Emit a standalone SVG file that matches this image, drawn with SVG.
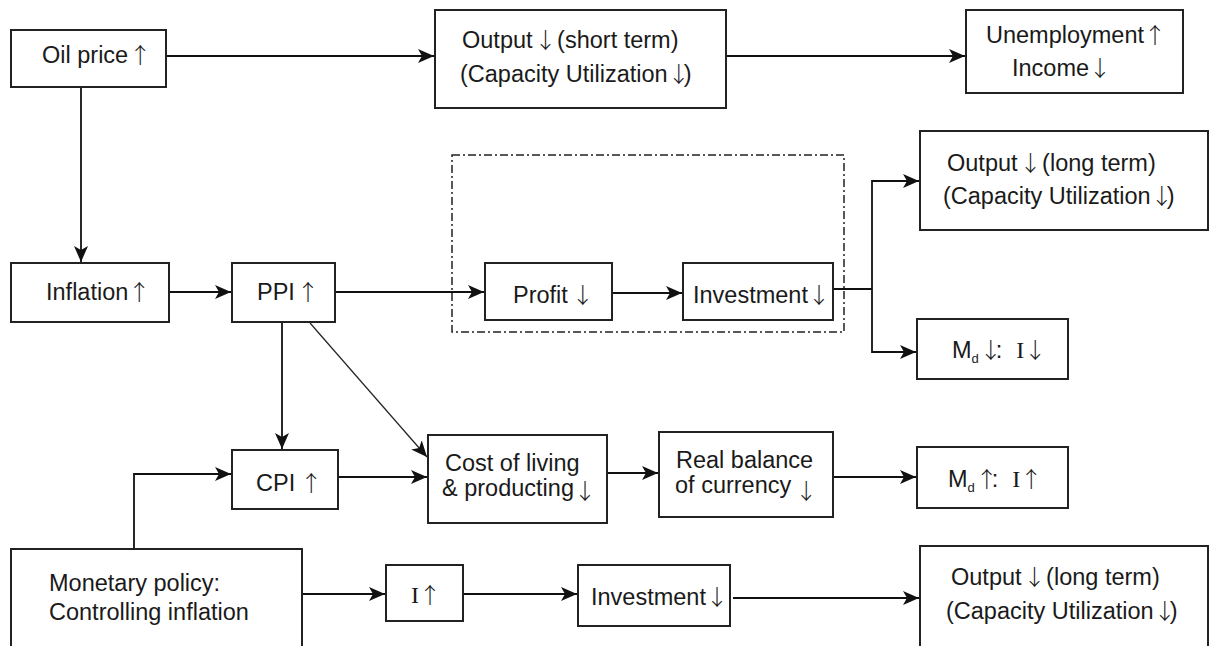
<svg xmlns="http://www.w3.org/2000/svg" width="1209" height="646" viewBox="0 0 1209 646">
<style>
.box{fill:#fff;stroke:#222;stroke-width:2}
.t{font-family:"Liberation Sans",Arial,sans-serif;font-size:23.5px;fill:#1a1a1a}
.s{font-family:"Liberation Serif","Times New Roman",serif;font-size:24px}
.a{font-family:"Noto Sans CJK SC","DejaVu Sans",sans-serif;font-size:22px;fill:#1a1a1a;font-weight:300;letter-spacing:-6px}
.sub{font-size:13px}
.c{fill:none;stroke:#111;stroke-width:1.8}
.thin{fill:none;stroke:#222;stroke-width:1.2}
.dash{fill:none;stroke:#222;stroke-width:1.5;stroke-dasharray:8,3,2,3}
</style>
<defs>
<marker id="ah" markerUnits="userSpaceOnUse" markerWidth="18" markerHeight="14" refX="16" refY="7" orient="auto">
<path d="M0,0 L16,7 L0,14 L4,7 Z" fill="#111"/>
</marker>
</defs>
<rect class="dash" x="452" y="155" width="392" height="177"/>
<g id="connectors">
<line class="c" x1="166" y1="56" x2="434" y2="56" marker-end="url(#ah)"/>
<line class="c" x1="726" y1="56" x2="965" y2="56" marker-end="url(#ah)"/>
<line class="c" x1="81" y1="87" x2="81" y2="262" marker-end="url(#ah)"/>
<line class="c" x1="169" y1="292" x2="231" y2="292" marker-end="url(#ah)"/>
<line class="c" x1="335" y1="292" x2="484" y2="292" marker-end="url(#ah)"/>
<line class="c" x1="612" y1="293" x2="682" y2="293" marker-end="url(#ah)"/>
<polyline class="c" points="833,289 872,289"/>
<polyline class="c" points="919,181 872,181 872,352 916,352" marker-end="url(#ah)"/>
<line class="c" x1="872" y1="181" x2="919" y2="181" marker-end="url(#ah)"/>
<line class="c" x1="282" y1="322" x2="282" y2="449" marker-end="url(#ah)"/>
<line class="thin" x1="310" y1="323" x2="427" y2="457" marker-end="url(#ah)"/>
<polyline class="c" points="134,549 134,474 231,474" marker-end="url(#ah)"/>
<line class="c" x1="338" y1="477" x2="427" y2="477" marker-end="url(#ah)"/>
<line class="c" x1="607" y1="473" x2="658" y2="473" marker-end="url(#ah)"/>
<line class="c" x1="833" y1="477" x2="916" y2="477" marker-end="url(#ah)"/>
<line class="c" x1="302" y1="594" x2="385" y2="594" marker-end="url(#ah)"/>
<line class="c" x1="463" y1="594" x2="577" y2="594" marker-end="url(#ah)"/>
<line class="c" x1="733" y1="598" x2="919" y2="598" marker-end="url(#ah)"/>
</g>
<g id="oil"><rect class="box" x="11" y="30" width="155" height="57"/><text class="t" x="42" y="63">Oil price<tspan class="a" dx="1">↑</tspan></text></g>
<g id="out_short"><rect class="box" x="435" y="10" width="291" height="98"/><text class="t" x="462" y="48">Output<tspan class="a" dx="2">↓</tspan> (short term)</text><text class="t" x="460" y="82">(Capacity Utilization<tspan class="a">↓</tspan>)</text></g>
<g id="unemp"><rect class="box" x="966" y="10" width="217" height="83"/><text class="t" x="986" y="43">Unemployment<tspan class="a">↑</tspan></text><text class="t" x="1012" y="76">Income<tspan class="a">↓</tspan></text></g>
<g id="out_long1"><rect class="box" x="920" y="131" width="288" height="99"/><text class="t" x="947" y="171">Output<tspan class="a" dx="2">↓</tspan> (long term)</text><text class="t" x="943" y="204">(Capacity Utilization<tspan class="a">↓</tspan>)</text></g>
<g id="inflation"><rect class="box" x="11" y="263" width="158" height="59"/><text class="t" x="46" y="300">Inflation<tspan class="a">↑</tspan></text></g>
<g id="ppi"><rect class="box" x="232" y="263" width="103" height="59"/><text class="t" x="257" y="300">PPI<tspan class="a" dx="2">↑</tspan></text></g>
<g id="profit"><rect class="box" x="485" y="263" width="127" height="57"/><text class="t" x="513" y="303">Profit<tspan class="a" dx="4">↓</tspan></text></g>
<g id="invest1"><rect class="box" x="683" y="263" width="150" height="57"/><text class="t" x="693" y="303">Investment<tspan class="a">↓</tspan></text></g>
<g id="md_down"><rect class="box" x="917" y="319" width="151" height="60"/><text class="t" x="952" y="358">M<tspan class="sub" dy="5">d</tspan><tspan class="a" dy="-5" dx="1">↓</tspan>:<tspan class="s" dx="14">I</tspan><tspan class="a">↓</tspan></text></g>
<g id="md_up"><rect class="box" x="917" y="447" width="151" height="61"/><text class="t" x="948" y="487">M<tspan class="sub" dy="5">d</tspan><tspan class="a" dy="-5" dx="1">↑</tspan>:<tspan class="s" dx="14">I</tspan><tspan class="a">↑</tspan></text></g>
<g id="cpi"><rect class="box" x="232" y="450" width="106" height="59"/><text class="t" x="256" y="491">CPI<tspan class="a" dx="5">↑</tspan></text></g>
<g id="cost"><rect class="box" x="428" y="435" width="179" height="88"/><text class="t" x="445" y="471">Cost of living</text><text class="t" x="442" y="496">&amp; producting<tspan class="a" dy="3" font-size="19">↓</tspan></text></g>
<g id="real"><rect class="box" x="659" y="432" width="174" height="85"/><text class="t" x="676" y="468">Real balance</text><text class="t" x="675" y="493">of currency<tspan class="a" dx="4" dy="6" font-size="20">↓</tspan></text></g>
<g id="monetary"><rect class="box" x="11" y="549" width="291" height="102"/><text class="t" x="49" y="591">Monetary policy:</text><text class="t" x="49" y="620">Controlling inflation</text></g>
<g id="i_up"><rect class="box" x="386" y="565" width="77" height="56"/><text class="t" x="411" y="603"><tspan class="s">I</tspan><tspan class="a">↑</tspan></text></g>
<g id="invest2"><rect class="box" x="578" y="565" width="152" height="61"/><text class="t" x="591" y="605">Investment<tspan class="a">↓</tspan></text></g>
<g id="out_long2"><rect class="box" x="920" y="546" width="288" height="105"/><text class="t" x="951" y="585">Output<tspan class="a" dx="2">↓</tspan> (long term)</text><text class="t" x="946" y="619">(Capacity Utilization<tspan class="a">↓</tspan>)</text></g>
</svg>
